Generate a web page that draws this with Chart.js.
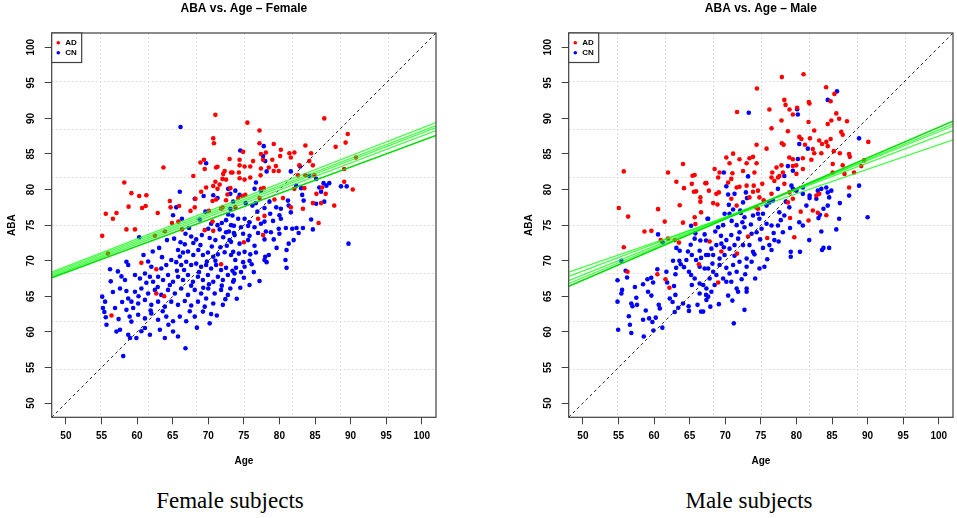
<!DOCTYPE html>
<html>
<head>
<meta charset="utf-8">
<script src="https://cdn.jsdelivr.net/npm/chart.js@4.4.0/dist/chart.umd.min.js"></script>
<style>
html, body { margin: 0; padding: 0; background: #fff; }
body { width: 957px; height: 518px; position: relative; overflow: hidden; font-family: "Liberation Sans", Arial, sans-serif; }
.panel { position: absolute; top: 0; }
.caption { position: absolute; top: 489px; font-family: "Liberation Serif", "Times New Roman", serif; font-size: 23px; line-height: 23px; color: #000; transform: translateX(-50%); white-space: nowrap; }
</style>
</head>
<body>
<canvas id="femaleChart" class="panel" width="478" height="475" style="left:0"></canvas>
<canvas id="maleChart" class="panel" width="440" height="475" style="left:517px"></canvas>
<div class="caption" style="left:230px">Female subjects</div>
<div class="caption" style="left:749px">Male subjects</div>
<script>
const axisMin = 48, axisMax = 102;
const ageTicks = [50, 55, 60, 65, 70, 75, 80, 85, 90, 95, 100];
const abaTicks = [50, 55, 60, 65, 70, 75, 80, 85, 90, 95, 100];
const identityLine = [48, 102];
const fitAges = [48, 102];

// ABA at age 48 and 102 for each fitted line, first one is the main fit
const femaleFits = [[67.6, 87.6], [68.4, 89.4], [68.2, 89.0], [68.0, 88.7], [67.8, 88.3]];
const maleFits = [[66.4, 89.6], [66.8, 89.2], [67.2, 88.9], [67.8, 88.3], [68.4, 87.0]];

// [age, ABA]
const femaleAD = [
  [55.1,73.5],[55.6,76.6],[56.6,75.9],[57.1,76.7],[58.2,81.0],[59.2,79.5],[60.3,79.1],[61.3,79.2],[58.8,77.6],[61.2,77.7],
  [60.7,77.4],[58.5,74.4],[59.7,74.4],[55.9,71.0],[60.6,69.7],[62.9,76.7],[63.7,83.1],[62.5,73.5],[63.9,74.1],[62.7,68.8],
  [62.7,65.4],[63.8,65.0],[56.4,62.3],[64.6,78.4],[64.7,77.5],[65.9,77.7],[64.9,75.3],[65.8,75.5],[66.3,74.4],[67.5,77.0],
  [67.9,81.9],[68.2,78.7],[68.9,83.8],[69.4,84.2],[69.5,82.9],[69.7,80.3],[69.0,79.7],[68.1,77.5],[70.1,77.0],[70.7,87.2],
  [70.8,86.5],[71.0,90.5],[71.1,83.1],[71.3,83.2],[72.1,82.2],[72.3,82.6],[73.0,84.3],[71.0,81.1],[70.7,80.5],[71.3,80.1],
  [71.6,80.7],[70.6,78.4],[71.1,78.6],[72.0,77.5],[72.5,78.5],[72.0,81.5],[72.5,81.4],[73.2,82.4],[72.7,79.3],[71.8,77.3],
  [69.5,74.3],[70.7,74.2],[71.8,69.5],[70.6,75.5],
  [75.5,89.4],[86.3,90.0],[77.2,88.3],[89.6,87.8],[89.3,86.6],[77.2,86.5],[79.2,86.4],[74.9,85.3],[77.4,85.0],[78.1,85.2],
  [80.2,85.6],[80.1,84.7],[81.4,85.1],[82.1,85.2],[83.65,86.2],[84.45,85.1],[87.9,86.0],[74.4,84.2],[76.3,84.0],[77.7,84.2],
  [79.0,84.2],[81.6,84.5],[84.2,84.0],[73.4,82.4],[74.3,82.4],[74.4,83.4],[75.1,83.25],[75.9,83.25],[77.4,82.95],[78.5,83.1],
  [79.2,82.6],[79.5,83.3],[79.9,82.6],[82.8,83.4],[84.7,83.4],[74.4,81.6],[75.1,81.4],[75.9,81.7],[77.35,82.0],[82.6,82.0],
  [83.65,82.0],[84.9,82.0],[89.1,82.9],[89.1,81.1],[90.3,80.0],[73.1,80.2],[75.2,79.25],[77.4,80.1],[77.8,80.2],[74.2,78.8],
  [74.8,79.1],[73.8,77.5],[77.2,78.8],[79.3,78.6],[80.5,78.8],[82.1,80.1],[83.5,80.2],[85.2,79.4],[86.0,80.3],[84.7,78.1],
  [85.85,78.1],[86.5,79.4],[87.7,77.75],[83.3,77.3],[81.6,77.5],[77.9,76.3],[77.0,75.9],[77.7,73.6],[75.0,72.6],[85.5,75.3],
  [90.75,84.5]
];

const femaleCN = [
  [66.1,88.8],[69.7,83.7],[66.0,79.7],[72.8,80.1],[73.1,79.4],[68.1,78.7],[69.35,79.1],[70.7,79.2],[71.3,78.8],[65.5,77.5],
  [65.05,76.4],[66.3,75.9],[73.1,77.3],[72.8,76.5],[72.5,75.7],[70.4,75.2],[71.3,75.0],[71.9,75.3],[73.2,75.0],[60.3,73.3],
  [70.0,74.5],[71.6,74.4],[72.5,74.0],[67.6,73.4],[68.3,73.0],[69.1,73.6],[70.2,73.2],[71.0,72.9],[72.1,73.3],[73.0,72.9],
  [66.1,72.6],[66.7,72.3],[65.75,71.5],[66.45,71.15],[67.15,71.3],[67.9,70.8],[68.6,71.5],[69.25,70.8],[69.95,71.15],[70.7,70.55],
  [71.35,70.9],[72.3,71.2],[73.2,70.8],[64.8,70.1],[65.5,69.8],[66.2,69.4],[66.9,69.85],[67.6,69.4],[68.3,69.6],[69.0,69.15],
  [69.7,69.4],[70.4,68.9],[71.1,69.4],[71.8,68.7],[72.5,69.0],[58.5,69.85],[58.75,69.4],[61.55,69.9],[62.0,69.15],[63.4,68.9],
  [64.1,69.4],[56.2,68.8],[57.3,68.5],[57.8,67.8],[58.3,67.3],[59.7,68.0],[60.4,67.5],[61.1,68.2],[61.8,67.75],[62.25,67.05],
  [62.95,67.75],[63.65,67.3],[64.35,68.0],[65.05,67.05],[65.75,67.75],[66.45,67.3],[67.15,68.0],[67.85,67.05],[68.55,67.75],[69.25,67.3],
  [69.95,68.0],[70.7,67.05],[71.35,67.75],[72.05,67.3],[72.75,68.0],[73.5,67.05],[57.6,66.1],[58.5,65.75],[59.7,65.65],[60.6,66.1],
  [61.55,65.4],[62.5,65.9],[63.4,65.2],[64.35,65.9],[65.3,65.4],[66.2,66.1],[67.15,65.2],[68.1,65.9],[69.0,65.4],[70.0,66.1],
  [70.9,65.4],[71.8,65.9],[72.75,65.2],[55.1,64.95],[55.5,64.25],[58.75,64.7],[59.2,64.25],[60.15,64.0],[61.1,64.5],[62.0,63.8],
  [62.95,64.25],[63.9,63.55],[64.8,64.25],[65.75,63.8],[66.7,64.35],[67.6,63.7],[68.55,64.25],[69.5,63.55],[70.7,64.0],[72.05,63.8],
  [55.2,63.35],[55.4,62.8],[55.6,62.05],[56.9,63.35],[58.5,63.1],[59.45,63.35],[58.95,62.15],[60.15,62.4],[61.1,61.9],[62.0,62.6],
  [62.95,61.7],[64.1,62.15],[65.05,61.5],[66.0,62.15],[66.9,61.5],[68.1,62.15],[69.25,62.85],[70.4,62.5],[55.7,61.0],[59.2,61.45],
  [57.1,60.05],[57.6,60.3],[58.75,59.6],[59.9,59.15],[61.1,60.55],[61.8,59.6],[63.2,60.3],[63.9,59.15],[65.05,60.05],[65.75,59.35],
  [59.0,59.15],[58.05,56.6],[66.8,57.7],
  [74.5,85.5],[77.8,86.1],[77.7,84.7],[78.0,84.0],[78.2,82.55],[81.6,82.55],[82.9,83.25],[84.2,81.95],[85.15,81.5],[86.2,80.9],
  [86.6,80.55],[87.0,80.9],[88.65,80.45],[89.45,80.45],[76.7,81.0],[76.5,80.1],[77.4,79.85],[82.35,80.55],[83.05,80.2],[85.6,80.3],
  [85.85,79.7],[83.2,79.25],[83.4,78.45],[85.15,78.0],[86.3,78.3],[73.8,79.85],[74.4,79.25],[73.5,78.3],[75.25,78.1],[76.2,77.75],
  [76.7,78.1],[78.6,78.3],[79.55,77.5],[80.2,77.3],[81.2,78.45],[81.3,77.75],[81.6,76.8],[84.45,75.8],[73.4,76.35],[74.2,75.9],
  [75.1,75.9],[75.8,75.4],[77.9,77.4],[77.9,75.5],[80.0,76.4],[80.2,75.9],[73.6,74.9],[74.6,74.7],[75.6,74.9],[76.5,74.7],
  [77.4,75.2],[79.9,74.5],[80.9,74.6],[81.8,74.5],[82.4,74.6],[83.3,74.6],[84.7,74.4],[82.7,73.9],[80.0,73.8],[73.7,73.6],
  [74.9,73.8],[75.8,73.5],[77.0,73.9],[78.1,74.1],[78.8,74.0],[77.9,73.0],[79.2,73.0],[73.2,72.65],[74.4,72.4],[75.6,72.9],
  [76.5,72.1],[89.7,72.4],[81.3,72.4],[81.0,71.5],[73.5,71.25],[74.3,71.0],[75.1,71.25],[75.9,70.9],[76.7,71.15],[78.0,70.55],
  [78.5,70.8],[73.8,70.1],[74.9,69.8],[75.8,70.0],[77.9,70.1],[78.2,69.8],[80.85,70.1],[73.9,69.0],[75.1,69.15],[81.0,69.0],
  [73.7,68.2],[74.6,68.4],[76.4,68.4],[73.6,67.3],[75.0,67.6],[77.2,67.15],[75.8,66.6],[74.0,64.65],
  [67.3,74.6],[68.8,75.8],[69.6,76.9],[66.8,73.8],[64.2,72.9],[63.1,71.8],[65.2,73.1],[68.9,72.2],[70.5,72.0],[72.9,74.1],
  [69.8,69.9],[67.9,72.5],[71.7,71.9],[64.6,66.6],[66.6,68.7],[68.7,68.4],[70.1,66.7],[71.9,66.5],[73.4,68.6],[62.9,66.3],
  [61.3,66.9],[60.2,65.0],[56.6,65.6],[57.9,64.2],[63.6,62.9],[67.4,62.9],[69.7,64.7],[71.2,62.3],[72.4,64.6],[56.3,67.1],
  [60.9,70.8],[63.5,70.5],[62.2,71.3],[65.6,68.6],[67.6,66.5],[69.3,66.2],[71.0,70.0],[72.6,72.1],[73.6,73.9],[66.0,70.6],
  [61.9,63.0],[64.4,61.0],[60.6,60.1],[57.4,61.8],[70.2,61.2],[68.4,60.6],[73.1,66.1],[74.5,66.2],[76.1,69.5],[79.6,71.8],
  [82.0,72.9],[78.7,76.6],[76.9,76.9],[79.1,75.6]
];

const maleAD = [
  [55.74,82.55],[55.04,77.4],[56.35,76.2],[55.74,71.9],[56.26,68.45],[58.64,74.1],[59.62,74.2],[60.56,77.25],[61.49,75.5],[61.96,82.4],
  [63.13,81.1],[64.06,83.6],[64.2,80.2],[63.6,77.8],[64.06,75.35],[60.93,72.9],[61.96,73.1],[62.9,72.9],[63.5,72.55],[65.4,81.95],
  [65.7,82.05],[65.3,80.8],[65.6,79.7],[65.9,79.75],[66.5,78.9],[66.5,78.3],[66.6,76.8],[67.2,80.9],[65.7,76.1],[65.8,75.15],
  [60.46,68.1],[61.6,67.4],[62.15,66.2],[66.3,69.5],
  [77.95,95.8],[81.0,96.2],[74.45,94.2],[71.65,90.9],[84.17,94.37],[85.34,93.44],[84.8,92.4],[78.3,92.6],[78.47,91.9],[76.2,91.25],
  [79.03,91.25],[80.1,91.5],[81.74,92.3],[81.83,92.1],[79.5,90.55],[77.9,89.7],[81.7,89.5],[85.6,90.7],[86.0,89.95],[84.9,89.7],
  [87.1,89.6],[84.4,89.2],[76.5,88.6],[78.8,88.2],[82.5,88.3],[86.3,88.1],[86.5,87.7],[80.4,87.4],[80.7,87.1],[81.9,87.2],
  [83.2,86.9],[84.2,86.7],[84.8,87.1],[74.4,86.3],[77.95,86.5],[78.2,86.3],[81.2,86.3],[83.6,86.4],[84.4,86.1],[90.1,86.7],
  [75.8,85.75],[82.3,85.7],[82.5,85.1],[83.5,85.1],[85.25,85.4],[86.1,85.1],[87.4,85.0],[87.5,84.6],[71.1,85.05],[70.15,84.5],
  [72.0,84.25],[73.4,84.4],[73.9,84.6],[79.0,84.5],[79.5,84.25],[80.9,84.4],[82.1,84.2],[68.5,82.9],[70.6,83.7],[73.0,83.7],
  [74.4,83.7],[77.9,83.4],[79.5,83.3],[79.97,83.4],[85.1,83.6],[86.5,83.4],[89.1,83.3],[89.5,84.1],[69.2,82.4],[71.0,82.3],
  [72.5,82.6],[74.1,82.4],[77.2,83.1],[76.6,82.4],[77.6,81.9],[78.1,82.4],[80.0,82.2],[80.9,82.9],[85.1,82.4],[86.75,82.2],
  [88.1,82.4],[67.35,80.9],[69.0,81.7],[70.4,81.0],[70.85,81.5],[72.0,80.4],[73.0,80.55],[74.0,80.55],[76.5,81.7],[76.9,81.2],
  [77.4,81.7],[78.3,80.8],[75.2,80.8],[67.7,79.85],[68.75,79.4],[69.1,79.6],[71.6,80.3],[73.9,79.7],[74.6,79.85],[87.4,80.3],
  [68.3,78.1],[68.9,77.9],[71.6,77.75],[70.85,78.7],[73.4,78.9],[74.8,78.9],[75.4,78.5],[76.5,79.4],[79.0,79.6],[78.8,78.2],
  [79.5,78.7],[82.8,79.15],[83.2,79.4],[83.0,76.75],[84.2,76.4],[82.3,77.05],[81.7,75.65],[80.6,76.9],[79.1,76.0],[74.3,77.5],
  [74.6,77.3],[67.8,72.7],[71.65,71.0],[73.2,73.4],[75.9,73.2],[79.7,73.3],[69.0,66.95],[69.45,71.3]
];

const maleCN = [
  [55.4,70.0],[56.0,68.6],[56.2,67.65],[54.86,67.25],[55.5,65.9],[55.4,65.4],[54.86,64.25],[56.45,62.2],[56.6,61.0],[56.8,59.85],
  [54.95,60.3],[56.8,64.0],[56.96,63.6],[57.5,64.8],[57.6,63.8],[57.3,66.3],[58.45,66.7],[59.06,67.4],[59.6,67.6],[60.46,68.8],
  [59.86,66.95],[59.15,65.65],[59.62,65.1],[58.83,63.0],[59.3,61.9],[58.45,61.7],[59.76,61.4],[60.23,62.0],[60.65,63.8],[60.8,63.3],
  [61.16,60.6],[58.55,59.35],[59.9,60.2],[60.56,73.7],[61.2,72.6],[61.73,68.45],[61.83,66.95],[62.2,64.7],[62.6,64.2],[62.99,65.2],
  [62.8,66.45],[63.0,68.1],[63.1,69.0],[62.66,70.0],[63.55,70.0],[63.13,71.8],[63.6,71.4],[63.74,69.5],[64.2,69.1],[64.53,70.1],
  [64.76,71.3],[65.14,72.25],[65.7,73.1],[65.2,74.9],[65.8,73.85],[66.5,72.85],[65.3,70.8],[65.9,70.1],[66.6,70.4],[66.4,69.15],
  [67.1,68.9],[67.3,70.8],[64.9,68.45],[65.2,68.0],[65.7,67.5],[65.3,66.6],[66.4,66.8],[66.9,66.6],[66.4,65.4],[67.3,65.2],
  [64.06,64.0],[64.85,63.6],[64.9,62.95],[66.1,63.8],[66.6,62.85],[63.4,63.4],[62.9,62.8],[67.5,75.9],[67.3,72.85],
  [85.7,93.8],[84.4,92.6],[73.3,90.8],[80.1,91.3],[80.2,90.55],[88.8,87.2],[81.6,85.75],[80.4,86.4],[78.8,83.3],[80.2,84.3],
  [79.5,82.65],[78.3,81.9],[69.8,82.4],[70.15,80.45],[70.4,79.3],[71.3,79.4],[72.9,79.6],[73.05,78.8],[73.2,81.85],[72.5,78.2],
  [72.1,77.05],[70.5,77.85],[69.9,76.6],[70.6,76.6],[71.1,77.2],[67.6,75.9],[69.0,74.7],[69.7,75.0],[71.6,75.0],[72.4,75.4],
  [72.7,76.1],[73.9,76.35],[75.3,76.6],[75.8,77.75],[76.2,78.2],[76.7,78.45],[77.4,80.1],[79.3,80.55],[79.5,80.1],[80.0,79.85],
  [80.9,79.4],[81.85,79.15],[83.0,79.85],[83.5,80.1],[84.2,80.3],[84.4,79.6],[84.9,79.85],[84.6,78.9],[84.4,77.75],[83.8,77.3],
  [83.3,76.45],[83.1,75.99],[86.1,78.1],[87.4,79.15],[88.8,80.55],[86.0,75.9],[85.6,74.4],[90.0,76.1],[83.5,74.1],[81.8,72.9],
  [83.8,71.8],[84.6,71.8],[83.6,71.5],[79.2,71.25],[79.2,70.55],[80.5,71.25],[80.4,75.4],[80.9,74.95],[79.1,74.6],[78.3,76.35],
  [77.6,76.8],[77.4,74.95],[78.1,74.0],[76.9,72.9],[77.5,72.7],[76.2,72.2],[76.5,71.5],[75.3,71.8],[75.8,75.2],[76.5,74.95],
  [75.1,74.5],[74.4,74.0],[73.7,73.8],[72.7,74.7],[72.0,74.0],[71.8,73.1],[70.85,73.6],[70.15,72.9],[69.45,72.4],[68.75,72.2],
  [68.05,71.7],[67.6,70.8],[68.3,70.8],[69.2,70.3],[69.9,70.8],[70.6,71.7],[71.3,72.2],[72.5,72.2],[73.4,72.2],[73.9,71.25],
  [73.0,70.3],[72.0,69.85],[71.1,69.4],[70.15,69.0],[69.2,69.4],[68.3,68.45],[67.6,68.9],[67.8,67.5],[68.75,68.0],[69.7,67.5],
  [70.6,68.2],[71.6,68.45],[73.0,69.15],[73.7,69.85],[74.8,68.9],[75.5,69.15],[67.35,66.1],[68.05,65.65],[67.6,64.95],[67.35,64.5],
  [67.9,63.55],[66.9,62.85],[70.15,67.05],[70.85,67.05],[71.6,66.1],[71.8,65.65],[73.0,66.1],[73.0,65.65],[72.7,63.1],[71.2,61.2],
  [74.6,76.6],[74.8,75.9],[81.4,77.75],[81.85,78.8],[82.8,78.7],[80.9,80.3],[78.5,78.3],[79.0,77.5],
  [68.6,74.1],[70.9,75.6],[72.2,76.7],[73.6,75.1],[74.9,73.0],[69.4,73.5],[71.3,70.7],[72.8,68.1],[74.1,70.9],[75.9,70.2],
  [76.8,73.9],[77.8,75.7],[68.2,69.6],[69.8,71.9],[66.4,71.4],[67.1,73.7],[70.4,65.1],[72.3,67.4],[74.2,67.5],[69.1,63.9],
  [71.0,64.4],[68.5,66.6]
];

const fontFamily = '"Liberation Sans", Arial, Helvetica, sans-serif';
const frameColor = '#404040';

// R style frame: dotted grid, box, rotated y labels, legend
const rFramePlugin = {
  id: 'rFrame',
  beforeDatasetsDraw(chart) {
    const {ctx, chartArea: a, scales: {x, y}} = chart;
    ctx.save();
    ctx.strokeStyle = '#dedede';
    ctx.lineWidth = 1;
    ctx.setLineDash([2, 2]);
    for (let k = 1; k < 8; k++) {
      const v = axisMin + k * (axisMax - axisMin) / 8;
      const px = Math.round(x.getPixelForValue(v)) + 0.5;
      const py = Math.round(y.getPixelForValue(v)) + 0.5;
      ctx.beginPath(); ctx.moveTo(px, a.top); ctx.lineTo(px, a.bottom); ctx.stroke();
      ctx.beginPath(); ctx.moveTo(a.left, py); ctx.lineTo(a.right, py); ctx.stroke();
    }
    ctx.restore();
  },
  afterDatasetsDraw(chart) {
    const {ctx, chartArea: a, scales: {y}} = chart;
    ctx.save();
    // box
    ctx.strokeStyle = frameColor;
    ctx.lineWidth = 1.2;
    ctx.strokeRect(a.left, a.top, a.right - a.left, a.bottom - a.top);
    // rotated y tick labels
    ctx.fillStyle = '#000';
    ctx.font = 'bold 10px ' + fontFamily;
    ctx.textAlign = 'center';
    ctx.textBaseline = 'middle';
    abaTicks.forEach(v => {
      ctx.save();
      ctx.translate(a.left - 20, y.getPixelForValue(v));
      ctx.rotate(-Math.PI / 2);
      ctx.fillText(String(v), 0, 0);
      ctx.restore();
    });
    // legend
    const lw = 30, lh = 29.5;
    ctx.fillStyle = '#fff';
    ctx.fillRect(a.left, a.top, lw, lh);
    ctx.strokeStyle = frameColor;
    ctx.lineWidth = 1.2;
    ctx.strokeRect(a.left, a.top, lw, lh);
    [['AD', '#ff0000', 9.7], ['CN', '#0000ff', 19.7]].forEach(([label, color, dy]) => {
      ctx.fillStyle = color;
      ctx.beginPath();
      ctx.arc(a.left + 6.6, a.top + dy, 1.8, 0, Math.PI * 2);
      ctx.fill();
      ctx.fillStyle = '#000';
      ctx.font = 'bold 8px ' + fontFamily;
      ctx.textAlign = 'left';
      ctx.fillText(label, a.left + 13.5, a.top + dy + 0.5);
    });
    ctx.restore();
  }
};

function toPoints(pairs) {
  return pairs.map(p => ({x: p[0], y: p[1]}));
}

function makeChart(id, title, ad, cn, fits, padRight) {
  const fitSets = fits.map((f, i) => ({
    type: 'line',
    data: fitAges.map((age, j) => ({x: age, y: f[j]})),
    borderColor: i === 0 ? '#00e000' : 'rgba(20,255,20,0.8)',
    borderWidth: i === 0 ? 1.6 : 1.2,
    pointRadius: 0,
    fill: false
  }));
  const labelFont = {family: fontFamily, size: 10, weight: 'bold'};
  new Chart(document.getElementById(id), {
    type: 'scatter',
    data: {
      datasets: [
        ...fitSets,
        {
          type: 'line',
          data: identityLine.map(v => ({x: v, y: v})),
          borderColor: '#222',
          borderWidth: 1,
          borderDash: [3, 3],
          pointRadius: 0,
          fill: false
        },
        {
          label: 'AD',
          data: toPoints(ad),
          pointBackgroundColor: '#ff0000',
          pointBorderWidth: 0,
          pointRadius: 2.3
        },
        {
          label: 'CN',
          data: toPoints(cn),
          pointBackgroundColor: '#0000ff',
          pointBorderWidth: 0,
          pointRadius: 2.3
        }
      ]
    },
    options: {
      responsive: false,
      animation: false,
      devicePixelRatio: 1,
      layout: {padding: {left: 0, right: padRight, top: 0, bottom: 0}},
      plugins: {
        legend: {display: false},
        tooltip: {enabled: false},
        title: {
          display: true,
          text: title,
          fullSize: false,
          color: '#000',
          font: {family: fontFamily, size: 12, weight: 'bold'},
          padding: {top: 1.5, bottom: 17.1}
        }
      },
      scales: {
        x: {
          type: 'linear',
          min: axisMin,
          max: axisMax,
          afterBuildTicks: s => { s.ticks = ageTicks.map(v => ({value: v})); },
          afterFit: s => { s.height = 57.7; },
          ticks: {color: '#000', font: labelFont, padding: 6.4, maxRotation: 0, autoSkip: false},
          grid: {drawOnChartArea: false, drawTicks: true, tickLength: 7, color: frameColor},
          border: {display: false},
          title: {display: true, text: 'Age', color: '#000', font: labelFont, padding: {top: 0, bottom: 8}}
        },
        y: {
          type: 'linear',
          min: axisMin,
          max: axisMax,
          afterBuildTicks: s => { s.ticks = abaTicks.map(v => ({value: v})); },
          afterFit: s => { s.width = 51.7; },
          ticks: {display: false},
          grid: {drawOnChartArea: false, drawTicks: true, tickLength: 7, color: frameColor},
          border: {display: false},
          title: {display: true, text: 'ABA', color: '#000', font: labelFont, padding: {top: 6, bottom: 0}}
        }
      }
    },
    plugins: [rFramePlugin]
  });
}

makeChart('femaleChart', 'ABA vs. Age \u2013 Female', femaleAD, femaleCN, femaleFits, 42);
makeChart('maleChart', 'ABA vs. Age \u2013 Male', maleAD, maleCN, maleFits, 3.7);
</script>
</body>
</html>
